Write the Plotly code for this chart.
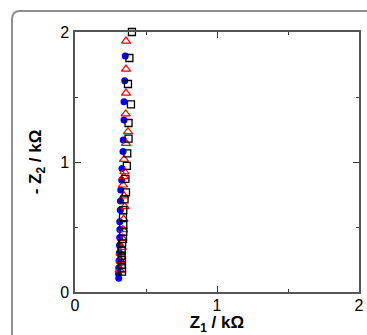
import plotly.graph_objects as go

# Series: blue filled circles
circ_x = [0.308, 0.306, 0.308, 0.310, 0.312, 0.313, 0.315, 0.316, 0.315, 0.319, 0.320, 0.322, 0.329, 0.331, 0.338, 0.340, 0.345, 0.345, 0.350, 0.354]
circ_y = [0.105, 0.140, 0.185, 0.240, 0.300, 0.360, 0.420, 0.480, 0.540, 0.630, 0.700, 0.785, 0.860, 0.950, 1.080, 1.170, 1.323, 1.464, 1.625, 1.815]

# Series: red open triangles
tri_x = [0.315, 0.322, 0.320, 0.330, 0.334, 0.338, 0.342, 0.350, 0.345, 0.338, 0.343, 0.348, 0.345, 0.359, 0.373, 0.357, 0.359, 0.359, 0.359]
tri_y = [0.170, 0.240, 0.300, 0.344, 0.413, 0.480, 0.560, 0.656, 0.740, 0.823, 0.887, 0.925, 1.020, 1.144, 1.233, 1.370, 1.530, 1.715, 1.930]

# Series: black open squares
sq_x = [0.331, 0.331, 0.329, 0.331, 0.328, 0.329, 0.332, 0.338, 0.340, 0.340, 0.338, 0.340, 0.349, 0.359, 0.355, 0.365, 0.368, 0.377, 0.377, 0.394, 0.373, 0.383, 0.401]
sq_y = [0.156, 0.182, 0.208, 0.246, 0.279, 0.318, 0.374, 0.408, 0.464, 0.515, 0.575, 0.630, 0.713, 0.767, 0.870, 0.970, 1.067, 1.180, 1.300, 1.444, 1.600, 1.800, 2.000]

x_ticks = [0, 1, 2]
y_ticks = [0, 1, 2]

fig = go.Figure()
fig.add_trace(go.Scatter(x=circ_x, y=circ_y, mode="markers", cliponaxis=False,
                         marker=dict(symbol="circle", size=7, color="#0000ff", line=dict(width=0))))
fig.add_trace(go.Scatter(x=tri_x, y=tri_y, mode="markers", cliponaxis=False,
                         marker=dict(symbol="triangle-up-open", size=8, color="#ff0000", line=dict(width=1.2))))
fig.add_trace(go.Scatter(x=sq_x, y=sq_y, mode="markers", cliponaxis=False,
                         marker=dict(symbol="square-open", size=7, color="#000000", line=dict(width=1.3))))

W, H = 367, 335
L, R, T, B = 75, 8, 32, 43
pw, ph = W - L - R, H - T - B

def px(xp):
    return (xp - L) / pw

def py(yp):
    return (H - B - yp) / ph

rad = 8
frame = (f"M {px(12)},{py(345)} L {px(12)},{py(11 + rad)} "
         f"Q {px(12)},{py(11)} {px(12 + rad)},{py(11)} L {px(380)},{py(11)}")

FONT = "Liberation Sans"

fig.update_layout(
    width=W, height=H,
    margin=dict(l=L, r=R, t=T, b=B, autoexpand=False),
    plot_bgcolor="white", paper_bgcolor="white",
    showlegend=False,
    font=dict(family=FONT, size=16, color="#000"),
    shapes=[dict(type="path", path=frame, xref="paper", yref="paper", layer="below",
                 line=dict(color="#8f8f8f", width=2))],
)
fig.update_xaxes(range=[0, 2], tickvals=x_ticks, ticktext=[str(v) for v in x_ticks],
                 automargin=False,
                 showgrid=False, zeroline=False, showline=True, linecolor="#555", linewidth=1.5,
                 mirror="ticks", ticks="inside", ticklen=6, tickwidth=1, tickcolor="#333",
                 minor=dict(dtick=0.5, ticks="inside", ticklen=3, tickcolor="#333", showgrid=False),
                 tickfont=dict(family=FONT, size=16), ticklabelstandoff=-2,
                 title=dict(text="<b>Z<sub>1</sub> / kΩ</b>", font=dict(family=FONT, size=17), standoff=0))
fig.update_yaxes(range=[0, 2], tickvals=y_ticks, ticktext=[str(v) for v in y_ticks],
                 automargin=False,
                 showgrid=False, zeroline=False, showline=True, linecolor="#555", linewidth=1.5,
                 mirror="ticks", ticks="inside", ticklen=6, tickwidth=1, tickcolor="#333",
                 minor=dict(dtick=0.5, ticks="inside", ticklen=3, tickcolor="#333", showgrid=False),
                 tickfont=dict(family=FONT, size=16), ticklabelstandoff=1,
                 title=dict(text="<b>- Z<sub>2</sub> / kΩ</b>", font=dict(family=FONT, size=17), standoff=14))

fig.write_html("out.html", config={"displayModeBar": False},
               post_script="document.body.style.margin='0';document.body.style.overflow='hidden';")
